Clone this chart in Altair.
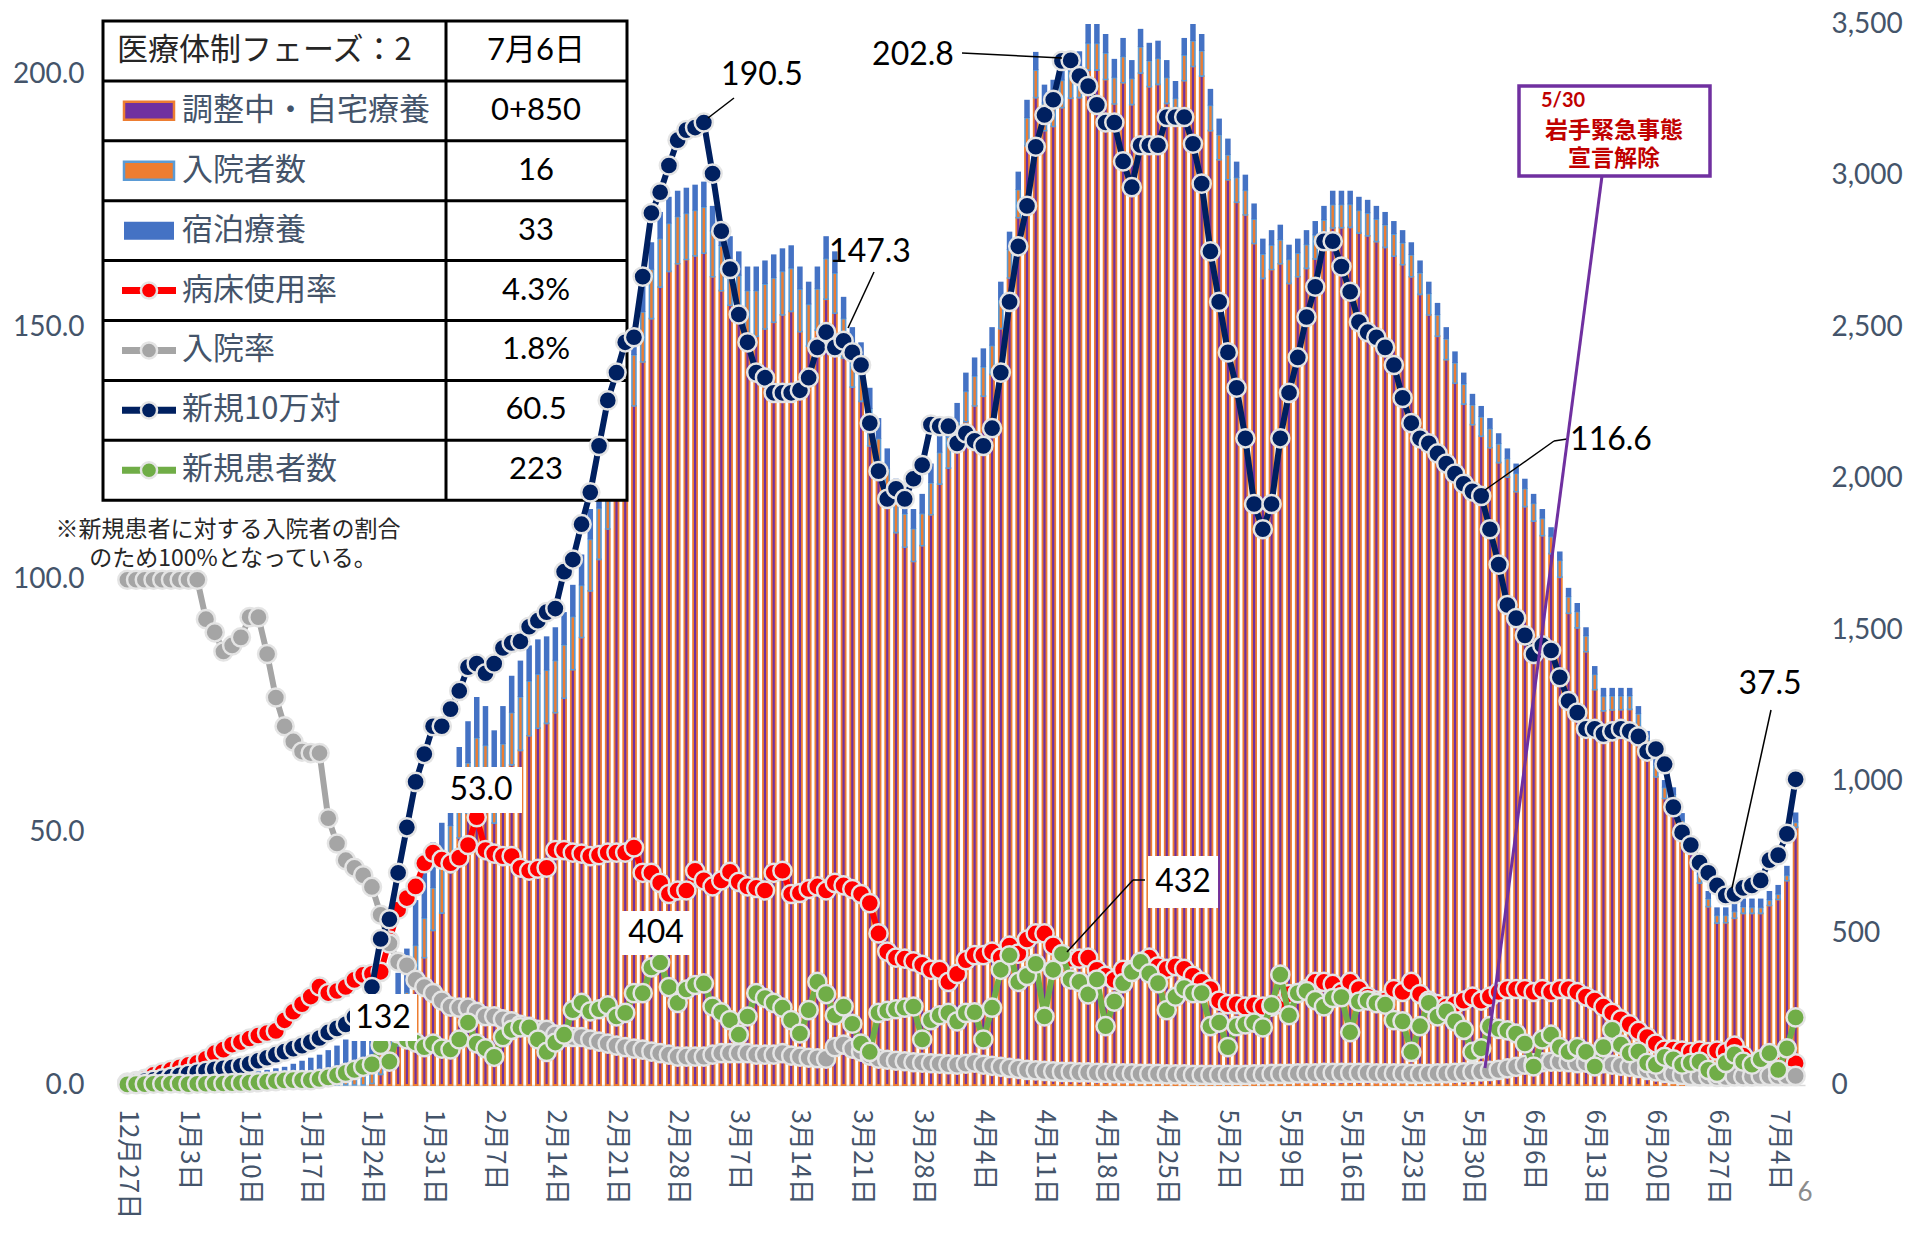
import altair as alt
import pandas as pd

# ---------------- data ----------------
tick_labels = ["12月27日", "1月3日", "1月10日", "1月17日", "1月24日", "1月31日", "2月7日",
               "2月14日", "2月21日", "2月28日", "3月7日", "3月14日", "3月21日", "3月28日",
               "4月4日", "4月11日", "4月18日", "4月25日", "5月2日", "5月9日", "5月16日",
               "5月23日", "5月30日", "6月6日", "6月13日", "6月20日", "6月27日", "7月4日"]

# 新規10万対 (left axis)
new_per100k = [
    0.4, 0.6, 0.8, 1.0, 1.3, 1.6, 1.9,
    2.2, 2.5, 2.8, 3.1, 3.3, 3.5, 3.8,
    4.2, 4.8, 5.4, 6.0, 6.6, 7.2, 7.8,
    8.5, 9.3, 10.4, 11.2, 12.0, 13.5, 15.5,
    19.4, 28.9, 32.8, 42.0, 51.0, 60.0, 65.5,
    71.0, 71.0, 74.4, 78.0, 82.7, 83.4, 81.5,
    83.4, 86.5, 87.5, 87.8, 90.7, 91.9, 93.6,
    94.3, 101.6, 104.0, 111.0, 117.3, 126.5, 135.5,
    141.0, 147.0, 148.0, 160.0, 172.6, 176.7, 182.0,
    187.0, 189.0, 189.5, 190.5, 180.4, 169.0, 161.5,
    152.5, 147.0, 141.0, 140.0, 137.0, 137.0, 137.0,
    137.5, 140.0, 146.0, 149.0, 146.0, 147.3, 145.0,
    142.5, 131.0, 121.5, 116.0, 118.0, 116.0, 120.0,
    122.7, 130.7, 130.4, 130.4, 127.0, 129.0, 127.5,
    126.5, 130.0, 141.0, 155.0, 166.0, 174.0, 185.7,
    192.0, 195.0, 202.7, 202.8, 199.7, 197.7, 194.0,
    190.5, 190.5, 182.8, 177.7, 186.0, 186.0, 186.0,
    191.6, 191.6, 191.6, 186.3, 178.4, 165.0, 155.0,
    145.0, 138.0, 128.0, 115.0, 110.0, 115.0, 128.0,
    137.0, 144.0, 152.0, 158.0, 167.0, 167.0, 162.0,
    157.0, 151.0, 149.0, 148.0, 146.0, 142.5, 136.0,
    131.0, 128.0, 127.0, 125.0, 123.0, 121.0, 119.0,
    117.5, 116.6, 110.0, 103.0, 95.0, 92.4, 89.0,
    85.3, 87.0, 86.0, 80.7, 76.0, 73.7, 70.5,
    70.5, 69.5, 70.0, 70.5, 70.0, 69.0, 66.0,
    66.5, 63.5, 55.0, 50.0, 47.5, 44.0, 42.0,
    39.5, 37.5, 37.8, 39.0, 39.5, 40.5, 44.5,
    45.5, 49.7, 60.5]

# 病床使用率 (left axis)
bed_rate = [
    0.5, 0.8, 1.2, 2.0, 2.5, 3.0, 3.5,
    4.0, 4.4, 5.2, 6.3, 7.0, 8.0, 8.5,
    9.2, 9.8, 10.3, 10.7, 12.8, 14.5, 16.0,
    17.5, 19.5, 18.2, 18.6, 19.4, 20.8, 21.8,
    22.0, 22.4, 28.6, 34.7, 37.0, 39.3, 43.9,
    46.0, 44.6, 43.9, 45.0, 47.5, 53.0, 46.5,
    45.8, 45.3, 45.3, 43.0, 42.4, 42.8, 43.0,
    46.5, 46.5, 46.0, 45.8, 45.3, 45.5, 46.0,
    46.0, 46.0, 47.0, 42.0, 42.0, 40.0, 37.8,
    38.5, 38.5, 42.4, 40.5, 39.3, 40.5, 42.2,
    40.2, 39.3, 39.0, 38.5, 42.0, 42.4, 37.8,
    38.0, 38.8, 39.3, 38.5, 40.0, 39.5, 38.8,
    37.8, 36.0, 30.0, 26.4, 25.2, 25.0, 24.5,
    23.8, 22.8, 22.8, 20.4, 22.0, 24.7, 25.7,
    25.7, 26.4, 25.2, 27.6, 26.0, 28.8, 30.0,
    30.0, 27.6, 25.2, 25.0, 25.0, 25.2, 22.8,
    21.6, 20.8, 22.8, 22.8, 24.0, 25.2, 23.5,
    23.0, 23.5, 23.0, 21.6, 20.4, 19.0, 16.7,
    16.0, 16.0, 15.5, 15.8, 15.5, 15.5, 16.0,
    18.0, 18.2, 19.0, 20.4, 20.4, 20.0, 18.4,
    20.4, 19.0, 17.5, 16.7, 16.7, 19.0, 18.4,
    20.4, 18.0, 16.7, 16.0, 15.5, 16.0, 16.7,
    17.5, 16.7, 17.5, 18.4, 19.0, 19.0, 19.0,
    18.4, 19.0, 18.4, 19.0, 19.0, 18.4, 17.5,
    16.7, 15.5, 14.3, 13.0, 12.0, 10.7, 9.5,
    8.2, 7.0, 7.0, 6.8, 6.5, 6.8, 6.5,
    6.8, 6.5, 7.8, 5.8, 3.9, 3.9, 3.9,
    3.9, 3.9, 4.3]

# 入院率 (left axis)
hosp_rate = [
    100, 100, 100, 100, 100, 100, 100,
    100, 100, 92.2, 89.6, 85.8, 87.0, 88.6,
    92.6, 92.6, 85.3, 76.7, 71.0, 68.0, 66.0,
    65.7, 65.7, 52.8, 47.8, 44.5, 43.0, 41.5,
    39.2, 33.7, 28.0, 24.4, 23.7, 20.8, 19.4,
    18.2, 16.7, 15.5, 15.3, 15.3, 14.5, 13.6,
    13.6, 13.0, 12.6, 11.9, 11.5, 10.9, 10.9,
    10.0, 9.5, 9.5, 9.5, 9.0, 8.6, 8.2,
    7.8, 7.5, 7.2, 7.0, 6.6, 6.3, 6.0,
    5.6, 5.6, 5.6, 5.6, 6.0, 6.3, 6.3,
    6.3, 6.3, 6.0, 6.0, 6.0, 6.3, 5.8,
    5.6, 5.4, 5.3, 5.2, 7.5, 8.0, 7.2,
    6.6, 5.8, 5.2, 5.0, 4.8, 4.7, 4.5,
    4.4, 4.3, 4.2, 4.1, 4.0, 4.2, 4.4,
    4.0, 3.8, 3.6, 3.4, 3.2, 3.0, 2.9,
    2.8, 2.7, 2.6, 2.6, 2.5, 2.5, 2.4,
    2.4, 2.3, 2.3, 2.3, 2.2, 2.2, 2.2,
    2.1, 2.1, 2.1, 2.0, 2.0, 2.0, 2.0,
    2.0, 2.0, 2.0, 2.1, 2.1, 2.2, 2.2,
    2.2, 2.3, 2.3, 2.3, 2.4, 2.4, 2.4,
    2.4, 2.4, 2.4, 2.3, 2.3, 2.3, 2.3,
    2.2, 2.2, 2.2, 2.3, 2.3, 2.4, 2.5,
    2.6, 2.7, 2.8, 3.0, 3.3, 3.6, 4.0,
    4.3, 4.5, 4.6, 4.6, 4.5, 4.3, 4.4,
    4.6, 4.3, 4.0, 3.8, 3.6, 3.4, 3.0,
    2.7, 2.4, 2.2, 2.0, 1.8, 1.7, 1.7,
    1.6, 1.6, 1.7, 1.7, 1.7, 1.8, 1.8,
    1.8, 1.8, 1.8]

# 新規患者数 (right axis)
new_cases = [
    2, 3, 3, 4, 4, 5, 5,
    3, 4, 4, 5, 5, 6, 7,
    8, 9, 11, 13, 15, 16, 16,
    16, 20, 25, 32, 40, 50, 60,
    68, 132, 77, 170, 150, 140, 125,
    137, 120, 117, 150, 206, 137, 121,
    93, 158, 182, 190, 190, 150, 109,
    140, 166, 247, 271, 243, 250, 263,
    226, 238, 303, 303, 388, 404, 323,
    271, 315, 330, 335, 259, 240, 214,
    166, 226, 303, 287, 271, 255, 214,
    170, 247, 340, 300, 230, 259, 202,
    137, 109, 238, 245, 250, 255, 259,
    150, 214, 230, 238, 210, 238, 240,
    150, 255, 380, 428, 340, 360, 400,
    226, 380, 432, 348, 340, 299, 348,
    194, 275, 336, 373, 406, 368, 336,
    247, 291, 320, 303, 303, 194, 206,
    125, 194, 200, 206, 190, 264, 364,
    230, 303, 310, 280, 259, 287, 290,
    174, 275, 279, 270, 265, 214, 210,
    109, 194, 271, 226, 243, 210, 182,
    109, 121, 194, 185, 180, 170, 137,
    61, 150, 166, 125, 109, 125, 109,
    61, 125, 182, 133, 105, 110, 73,
    67, 93, 85, 67, 73, 77, 50,
    40, 73, 101, 77, 67, 85, 105,
    50, 121, 223]

# bar height (調整中・自宅療養 + 入院者数 + 宿泊療養), right axis
bar_total = [
    5, 7, 9, 11, 13, 15, 17,
    19, 21, 24, 27, 30, 33, 36,
    40, 45, 50, 55, 60, 70, 80,
    90, 100, 115, 130, 150, 165, 180,
    200, 250, 300, 370, 450, 610, 700,
    800, 865, 1000, 1115, 1200, 1280, 1250,
    1170, 1250, 1350, 1400, 1450, 1470, 1480,
    1510, 1560, 1650, 1750, 1900, 2000, 2100,
    2240, 2350, 2500, 2640, 2780, 2880, 2930,
    2950, 2960, 2970, 2980, 2900, 2850, 2800,
    2750, 2700, 2700, 2720, 2740, 2760, 2770,
    2700, 2650, 2700, 2800, 2750, 2600, 2500,
    2450, 2300, 2200, 2100, 2000, 1950, 1900,
    1950, 2050, 2150, 2200, 2250, 2350, 2400,
    2430, 2500, 2650, 2815, 3013, 3250, 3408,
    3300, 3316, 3380, 3410, 3410, 3500, 3500,
    3467, 3385, 3454, 3381, 3484, 3438, 3445,
    3381, 3312, 3454, 3500, 3467, 3286, 3188,
    3122, 3046, 3003, 2908, 2792, 2820, 2838,
    2772, 2792, 2820, 2850, 2900, 2950, 2950,
    2950, 2930, 2920, 2900, 2880, 2850, 2820,
    2780, 2720, 2650, 2580, 2500, 2420, 2350,
    2280, 2240, 2200, 2150, 2100, 2050, 2000,
    1950, 1900, 1840, 1760, 1640, 1590, 1510,
    1382, 1310, 1310, 1310, 1310, 1250, 1168,
    1080, 1006, 982, 897, 820, 720, 640,
    586, 586, 600, 615, 615, 615, 640,
    660, 723, 899]

# 入院者数 segment
hospitalized = [
    3, 4, 5, 6, 7, 8, 9,
    10, 11, 12, 13, 14, 15, 16,
    18, 20, 22, 24, 26, 30, 32,
    36, 40, 45, 50, 55, 60, 65,
    70, 80, 90, 100, 110, 120, 130,
    140, 150, 155, 160, 165, 170, 175,
    178, 175, 172, 176, 180, 178, 175,
    172, 176, 175, 172, 170, 168, 170,
    172, 170, 168, 165, 162, 160, 158,
    155, 152, 150, 152, 150, 148, 146,
    145, 148, 150, 148, 146, 144, 142,
    140, 138, 136, 134, 132, 130, 128,
    125, 122, 118, 115, 112, 110, 108,
    106, 105, 104, 102, 100, 100, 98,
    96, 95, 94, 93, 92, 92, 91,
    90, 90, 90, 89, 88, 88, 88,
    87, 87, 86, 86, 86, 85, 85,
    85, 84, 84, 84, 83, 83, 82,
    82, 81, 81, 80, 80, 80, 79,
    79, 78, 78, 78, 77, 77, 76,
    76, 75, 75, 74, 74, 73, 72,
    72, 71, 70, 70, 68, 67, 66,
    65, 64, 63, 62, 61, 60, 59,
    58, 57, 56, 55, 54, 53, 52,
    50, 48, 46, 45, 44, 42, 40,
    38, 36, 34, 32, 30, 28, 26,
    25, 24, 22, 21, 20, 19, 18,
    17, 17, 16]

# 宿泊療養 segment
lodging = [
    2, 3, 4, 5, 6, 7, 8,
    9, 10, 12, 14, 16, 18, 20,
    22, 25, 28, 31, 34, 40, 48,
    54, 60, 70, 80, 95, 105, 115,
    125, 135, 140, 140, 145, 150, 150,
    150, 148, 145, 140, 138, 135, 130,
    128, 125, 122, 120, 118, 115, 112,
    110, 108, 105, 102, 100, 98, 96,
    95, 94, 92, 90, 90, 88, 88,
    86, 85, 85, 84, 84, 82, 82,
    80, 80, 80, 78, 78, 76, 76,
    75, 75, 74, 74, 72, 72, 70,
    70, 70, 68, 68, 66, 66, 65,
    65, 64, 64, 63, 63, 62, 62,
    62, 61, 61, 60, 60, 60, 60,
    62, 64, 66, 66, 65, 64, 64,
    63, 62, 62, 61, 60, 60, 59,
    58, 58, 57, 56, 56, 55, 54,
    54, 53, 52, 52, 51, 50, 50,
    49, 48, 48, 47, 47, 46, 46,
    45, 45, 44, 44, 43, 43, 42,
    42, 41, 40, 40, 39, 38, 38,
    37, 36, 35, 35, 34, 33, 33,
    32, 31, 31, 30, 30, 29, 29,
    28, 28, 27, 27, 27, 26, 26,
    26, 25, 25, 25, 25, 26, 26,
    27, 27, 28, 28, 29, 30, 30,
    31, 32, 33]

table_labels = ["医療体制フェーズ：2", "調整中・自宅療養", "入院者数", "宿泊療養",
                "病床使用率", "入院率", "新規10万対", "新規患者数"]
table_values = ["7月6日", "0+850", "16", "33", "4.3%", "1.8%", "60.5", "223"]

left_ticks = [0, 50, 100, 150, 200]
right_ticks = [0, 500, 1000, 1500, 2000, 2500, 3000, 3500]

# ---------------- styling ----------------
PURPLE, ORANGE, LBLUE, BLUE = "#7030A0", "#ED7D31", "#5B9BD5", "#4472C4"
RED, GRAY, NAVY, GREEN = "#FF0000", "#A5A5A5", "#002060", "#70AD47"
AXIS = "#44546A"
EDGE = "#E4E4E4"
JP = "Noto Sans CJK JP"
NUM = "Lato, Noto Sans CJK JP"
W, H = 1687, 1061

n = len(new_per100k)
df = pd.DataFrame({
    "day": list(range(n)), "navy": new_per100k, "red": bed_rate, "gray": hosp_rate,
    "green": new_cases, "total": bar_total, "hosp": hospitalized, "lodg": lodging,
})
df["home"] = (df["total"] - df["hosp"] - df["lodg"]).clip(lower=0)
df["p0"] = 0
df["p1"] = df["home"]
df["o1"] = df["p1"] + df["hosp"]
df["b1"] = df["o1"] + df["lodg"]

label_expr = "[" + ",".join('"%s"' % s for s in tick_labels) + "][round(datum.value / 7)]"
x_enc = alt.X("day:Q",
              scale=alt.Scale(domain=[-0.5, n - 0.5], nice=False, zero=False),
              axis=alt.Axis(values=list(range(0, n, 7)), labelExpr=label_expr, labelAngle=90,
                            labelFont=JP, labelFontSize=26, labelColor=AXIS, labelPadding=24,
                            labelFlush=False, labelOverlap=False, labelBound=False,
                            ticks=False, domain=True, domainColor="#D9D9D9", domainWidth=1.5,
                            grid=False, title=None))

right_scale = alt.Scale(domain=[0, 3500], nice=False, zero=True)
right_axis = alt.Axis(orient="right", values=right_ticks, format=",.0f", labelFont=NUM,
                      labelFontSize=28, labelColor=AXIS, labelPadding=26, ticks=False,
                      domain=False, grid=False, title=None, labelOverlap=False)
left_scale = alt.Scale(domain=[0, 210], nice=False, zero=True)
left_axis = alt.Axis(orient="left", values=left_ticks, format=".1f", labelFont=NUM,
                     labelFontSize=28, labelColor=AXIS, labelPadding=34, ticks=False,
                     domain=False, grid=False, title=None, labelOverlap=False)

base = alt.Chart(df)
purple_bars = base.transform_filter("datum.p1 > 0").mark_bar(
    size=4, fill=PURPLE, stroke=ORANGE, strokeWidth=1.8).encode(
    x=x_enc, y=alt.Y("p0:Q", scale=right_scale, axis=right_axis), y2="p1:Q")
orange_bars = base.mark_bar(size=4, fill=ORANGE, stroke=LBLUE, strokeWidth=1.6).encode(
    x=x_enc, y=alt.Y("p1:Q", scale=right_scale, axis=right_axis), y2="o1:Q")
blue_bars = base.mark_bar(size=5.5, fill=BLUE).encode(
    x=x_enc, y=alt.Y("o1:Q", scale=right_scale, axis=right_axis), y2="b1:Q")
bars = alt.layer(purple_bars, orange_bars, blue_bars)


def series(field, color, scale, axis):
    return alt.Chart(df).mark_line(
        color=color, strokeWidth=6, strokeJoin="round",
        point=alt.OverlayMarkDef(filled=True, fill=color, size=330, stroke=EDGE,
                                 strokeWidth=2.5, opacity=1)
    ).encode(x=x_enc, y=alt.Y(field + ":Q", scale=scale, axis=axis))


left_lines = alt.layer(series("red", RED, left_scale, left_axis),
                       series("gray", GRAY, left_scale, left_axis),
                       series("navy", NAVY, left_scale, left_axis))
green_line = series("green", GREEN, right_scale, None)


# ---------------- annotation helpers (pixel positions in plot area) ----------------
def one():
    return pd.DataFrame({"t": [0]})


def txt(s, x, y, size=32, color="black", font=NUM, align="center", weight="normal"):
    return alt.Chart(pd.DataFrame({"t": [s]})).mark_text(
        font=font, fontSize=size, color=color, align=align, baseline="middle",
        fontWeight=weight).encode(x=alt.value(x), y=alt.value(y), text="t:N")


def seg(x1, y1, x2, y2, color="black", width=1.5):
    return alt.Chart(one()).mark_rule(color=color, strokeWidth=width).encode(
        x=alt.value(x1), y=alt.value(y1), x2=alt.value(x2), y2=alt.value(y2))


def box(x1, y1, x2, y2, fill="white", stroke=None, sw=0):
    if stroke:
        m = alt.Chart(one()).mark_rect(fill=fill, stroke=stroke, strokeWidth=sw)
    else:
        m = alt.Chart(one()).mark_rect(fill=fill)
    return m.encode(x=alt.value(x1), x2=alt.value(x2), y=alt.value(y1), y2=alt.value(y2))


def dot(x, y, color, size=260):
    return alt.Chart(one()).mark_point(filled=True, fill=color, size=size, stroke=EDGE,
                                       strokeWidth=2.5, opacity=1).encode(
        x=alt.value(x), y=alt.value(y))


# ---------------- legend table ----------------
TX0, TX1, TXC = -15, 509, 328
TY0, RH = -3, 59.9
TY1 = TY0 + RH * len(table_labels)
table = [box(TX0, TY0, TX1, TY1, fill="white", stroke="black", sw=3)]
for r in range(1, len(table_labels)):
    table.append(seg(TX0, TY0 + RH * r, TX1, TY0 + RH * r, "black", 3))
table.append(seg(TXC, TY0, TXC, TY1, "black", 3))
for r, (lab, val) in enumerate(zip(table_labels, table_values)):
    yc = TY0 + RH * r + RH / 2
    if r == 0:
        table.append(txt(lab, -1, yc, size=31, color="#262626", font=JP, align="left"))
    else:
        table.append(txt(lab, 64, yc, size=31, color=AXIS, font=JP, align="left"))
    table.append(txt(val, 418, yc, size=31, color="black", font=NUM))
icon_style = [(PURPLE, ORANGE), (ORANGE, LBLUE), (BLUE, None)]
for k, (f, s) in enumerate(icon_style):
    yc = TY0 + RH * (k + 1) + RH / 2
    table.append(box(6, yc - 9, 56, yc + 9, fill=f, stroke=s, sw=2.5))
for k, c in enumerate([RED, GRAY, NAVY, GREEN]):
    yc = TY0 + RH * (k + 4) + RH / 2
    table.append(seg(4, yc, 58, yc, c, 7))
    table.append(dot(31, yc, c))

# ---------------- callouts ----------------
notes = [
    txt("190.5", 644, 51), seg(616, 74, 590, 94),
    txt("147.3", 752, 228), seg(756, 248, 730, 304),
    txt("202.8", 795, 31), seg(844, 29, 944, 34),
    txt("116.6", 1493, 416), seg(1449, 415, 1436, 417), seg(1436, 417, 1367, 466),
    txt("37.5", 1652, 660), seg(1653, 686, 1614, 864),
    box(322, 743, 404, 789), txt("53.0", 363, 766),
    box(232, 970, 299, 1017), txt("132", 265, 994),
    box(504, 887, 573, 931), txt("404", 538, 909),
    box(1030, 832, 1100, 884), txt("432", 1065, 858),
    seg(1027, 856, 1015, 856), seg(1015, 856, 949, 928),
    txt("※新規患者に対する入院者の割合", 110, 506, size=23, color="#262626", font=JP),
    txt("のため100%となっている。", 115, 535, size=23, color="#262626", font=JP),
    seg(1484, 152, 1367, 1044, PURPLE, 3),
    box(1401, 62, 1592, 152, fill="white", stroke=PURPLE, sw=3.5),
    txt("5/30", 1423, 77, size=20, color="#C00000", align="left", weight="bold"),
    txt("岩手緊急事態", 1496, 107, size=23, color="#C00000", font=JP, weight="bold"),
    txt("宣言解除", 1496, 135, size=23, color="#C00000", font=JP, weight="bold"),
    txt("6", 1687, 1169, size=26, color="#8C8C8C"),
]

chart = alt.layer(
    bars, *table, left_lines, green_line, *notes
).resolve_scale(y="independent").properties(
    width=W, height=H,
    padding={"left": 110, "top": 16, "right": 105, "bottom": 140},
    autosize=alt.AutoSizeParams(type="none"),
    background="white",
).configure_view(stroke=None)

chart.save("out.html", embed_options={"renderer": "svg", "actions": False})
